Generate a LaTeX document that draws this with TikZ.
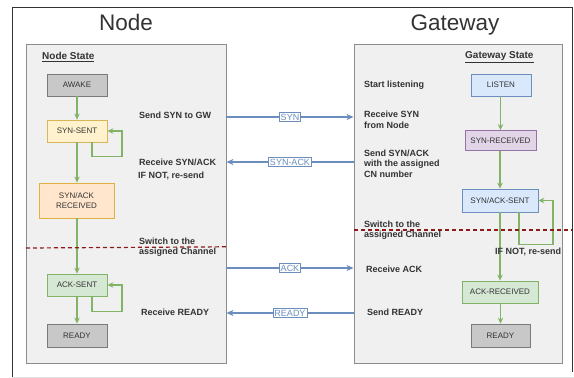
\documentclass[tikz,border=0pt]{standalone}
\usepackage{fontspec}
\setmainfont{Liberation Sans}
\usetikzlibrary{arrows.meta}
\definecolor{panelfill}{HTML}{F0F0F0}
\definecolor{paneldraw}{HTML}{8C8C8C}
\definecolor{grayfill}{HTML}{C8C8C8}
\definecolor{graydraw}{HTML}{7A7A7A}
\definecolor{yelfill}{HTML}{FFF2CC}
\definecolor{yeldraw}{HTML}{D6B656}
\definecolor{orafill}{HTML}{FFE6CC}
\definecolor{oradraw}{HTML}{E0B040}
\definecolor{grnfill}{HTML}{D5E8D4}
\definecolor{grndraw}{HTML}{82B366}
\definecolor{blufill}{HTML}{DAE8FC}
\definecolor{bludraw}{HTML}{6C8EBF}
\definecolor{purfill}{HTML}{E1D5E7}
\definecolor{purdraw}{HTML}{9673A6}
\definecolor{txt}{HTML}{333333}
\definecolor{dashred}{HTML}{8B1A1A}
\tikzset{
  panel/.style={draw=paneldraw, fill=panelfill, line width=0.8pt, minimum width=#1, inner sep=0},
  statebox/.style={draw=#1draw, fill=#1fill, line width=0.8pt, inner sep=0, align=center,
     text=txt, font=\fontsize{8}{9.5}\selectfont},
  lbl/.style={inner sep=0, anchor=west, align=left, text=txt, font=\bfseries\fontsize{9}{10.5}\selectfont},
  garrow/.style={draw=grndraw, line width=1.2pt, -{Stealth[length=6pt,width=5.5pt,inset=2pt]}},
  barrow/.style={draw=bludraw, line width=1.2pt, -{Stealth[length=7pt,width=6pt,inset=2pt]}},
  msg/.style={draw=bludraw, fill=white, line width=0.5pt, text=bludraw, inner sep=1.3pt,
     font=\fontsize{9}{10}\selectfont},
  divider/.style={draw=dashred, line width=1.2pt, dash pattern=on 4pt off 3pt},
  title/.style={text=txt, anchor=base, inner sep=0, font=\fontsize{22.5}{24}\selectfont},
}
\begin{document}
\begin{tikzpicture}[x=1pt, y=-1pt]
\useasboundingbox (0,0) rectangle (574,378);
% outer frame
\coordinate (f1) at (12,377);
\coordinate (f2) at (12,7);
\coordinate (f3) at (572,7);
\coordinate (f4) at (572,372);
\coordinate (f5) at (574,377);
\draw[line width=0.8pt, draw=txt] (f1) -- (f2) -- (f3) -- (f4);
\draw[line width=0.8pt, draw=black!12] (f1) -- (f5);

% titles
\node[title] (tnode) at (126,30) {Node};
\node[title] (tgw) at (455,30.5) {Gateway};

% panels
\node[panel=200pt, minimum height=319pt] (lp) at (126,203.5) {};
\node[panel=208pt, minimum height=319pt] (rp) at (458,203.5) {};

\node[lbl, font=\bfseries\fontsize{10}{12}\selectfont] (ns) at (42,57) {\underline{Node State}};
\node[lbl, font=\bfseries\fontsize{10}{12}\selectfont] (gs) at (465,57) {\underline{Gateway State}};

% node states
\node[statebox=gray, minimum width=60pt, minimum height=22pt] (awake) at (77,85) {AWAKE};
\node[statebox=yel, minimum width=60pt, minimum height=22pt] (ss) at (77,131) {SYN-SENT};
\node[statebox=ora, minimum width=75pt, minimum height=35pt] (sar) at (76.5,200.5) {SYN/ACK\\RECEIVED};
\node[statebox=grn, minimum width=60pt, minimum height=22pt] (as) at (77,285) {ACK-SENT};
\node[statebox=gray, minimum width=60pt, minimum height=23pt] (nready) at (77,335.5) {READY};

% gateway states
\node[statebox=blu, minimum width=60pt, minimum height=22pt] (listen) at (501,85) {LISTEN};
\node[statebox=pur, minimum width=71pt, minimum height=20pt] (sr) at (500.5,140.5) {SYN-RECEIVED};
\node[statebox=blu, minimum width=76pt, minimum height=23pt] (sas) at (500,200.5) {SYN/ACK-SENT};
\node[statebox=grn, minimum width=76pt, minimum height=22pt] (ar) at (500,292) {ACK-RECEIVED};
\node[statebox=gray, minimum width=59pt, minimum height=23pt] (gready) at (500.5,335.5) {READY};

% green transitions
\draw[garrow] (awake) -- (ss);
\draw[garrow] (ss) -- (ss |- sar.north);
\draw[garrow] (sar.south -| as) -- (as);
\draw[garrow] (as) -- (nready);
\draw[garrow] ([xshift=15pt]ss.south) |- ++(30,14) |- (ss.east);
\draw[garrow] ([xshift=15pt]as.south) |- ++(30,15) |- (as.east);

\draw[garrow] (listen.south -| sr) -- (sr);
\draw[garrow] (sr.south -| sas) -- (sas);
\draw[garrow] (sas) -- (ar);
\draw[garrow] (ar.south -| gready) -- (gready);
\draw[garrow] ([xshift=19pt]sas.south) |- ++(34,32) |- (sas.east);

% dividers
\coordinate (d1) at (26,248);
\coordinate (d2) at (226,246.8);
\coordinate (d3) at (354,230);
\coordinate (d4) at (572,230);
\draw[divider] (d1) -- (d2);
\draw[divider] (d3) -- (d4);

% node side labels
\node[lbl] (l1) at (139,115) {Send SYN to GW};
\node[lbl] (l2) at (139,162) {Receive SYN/ACK};
\node[lbl] (l3) at (138,176) {IF NOT, re-send};
\node[lbl] (l4) at (139,247) {Switch to the\\assigned Channel};
\node[lbl] (l5) at (141,312) {Receive READY};

% gateway side labels
\node[lbl] (r1) at (364,85) {Start listening};
\node[lbl] (r2) at (364,120) {Receive SYN\\from Node};
\node[lbl] (r3) at (364,163.5) {Send SYN/ACK\\with the assigned\\CN number};
\node[lbl] (r4) at (364,230) {Switch to the\\assigned Channel};
\node[lbl] (r5) at (366,269) {Receive ACK};
\node[lbl] (r6) at (367,312) {Send READY};
\node[lbl] (r7) at (495,252) {IF NOT, re-send};

% messages
\draw[barrow] (lp.east |- 0,117) -- node[msg] {SYN} (rp.west |- 0,117);
\draw[barrow] (rp.west |- 0,162) -- node[msg] {SYN-ACK} (lp.east |- 0,162);
\draw[barrow] (lp.east |- 0,268) -- node[msg] {ACK} (rp.west |- 0,268);
\draw[barrow] (rp.west |- 0,313) -- node[msg] {READY} (lp.east |- 0,313);
\end{tikzpicture}
\end{document}
